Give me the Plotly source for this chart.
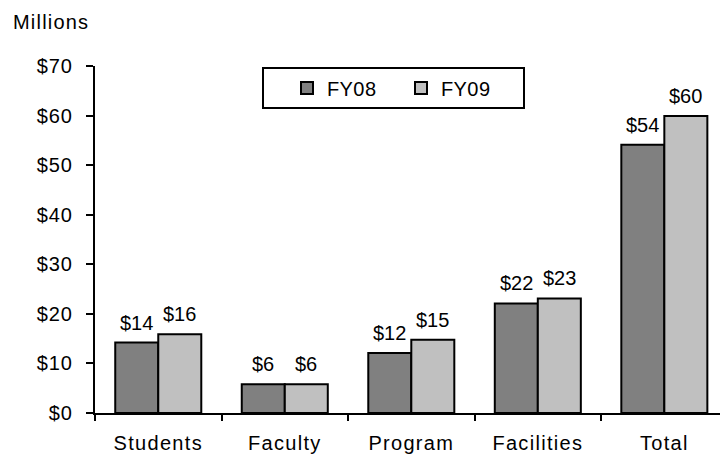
import plotly.graph_objects as go

categories = ["Students", "Faculty", "Program", "Facilities", "Total"]
fy08 = [14.2, 5.8, 12.1, 22.1, 54.1]
fy09 = [15.9, 5.8, 14.8, 23.1, 59.9]
series_names = ["FY08", "FY09"]
y_tickvals = [0, 10, 20, 30, 40, 50, 60, 70]
y_ticktext = ["$0", "$10", "$20", "$30", "$40", "$50", "$60", "$70"]

FONT = "Liberation Sans, Arial, sans-serif"
FS = 20
W, H = 720, 455
ML, MR, MT, MB = 95, 0, 66, 42
PW = W - ML - MR
PH = H - MT - MB
XRANGE = [-0.5, 4.44]
BARGAP = 0.32


def px_x(p):
    return (p - ML) / PW


def px_y(p):
    return (H - MB - p) / PH


def spaced(s, ls):
    return f"<span style='letter-spacing:{ls}px'>{s}</span>"


cat_px = PW / (XRANGE[1] - XRANGE[0])
half_bar = cat_px * (1 - BARGAP) / 4

fig = go.Figure()
annotations = []
for k, (name, vals, col) in enumerate([(series_names[0], fy08, "#808080"),
                                       (series_names[1], fy09, "#C0C0C0")]):
    fig.add_trace(go.Bar(
        x=categories, y=vals, name=spaced(name, 0.4),
        marker=dict(color=col, line=dict(color="black", width=2)),
    ))
    for c, v in zip(categories, vals):
        annotations.append(dict(
            x=c, y=v, xref="x", yref="y", text=f"${v:.0f}",
            xshift=(-half_bar if k == 0 else half_bar), yshift=7,
            yanchor="bottom", xanchor="center", showarrow=False,
            font=dict(family=FONT, size=FS, color="black"),
        ))

annotations.append(dict(
    text=spaced("Millions", 1.2), xref="paper", yref="paper",
    x=px_x(11), y=px_y(22), xanchor="left", yanchor="middle",
    showarrow=False, font=dict(family=FONT, size=FS, color="black"),
))

fig.update_layout(
    width=W, height=H,
    margin=dict(l=ML, r=MR, t=MT, b=MB, pad=0),
    paper_bgcolor="white", plot_bgcolor="white",
    barmode="group", bargap=BARGAP, bargroupgap=0,
    font=dict(family=FONT, size=FS, color="black"),
    showlegend=True,
    legend=dict(
        orientation="h", x=px_x(287), xanchor="left", y=px_y(88), yanchor="middle",
        bgcolor="rgba(0,0,0,0)", borderwidth=0, entrywidth=69,
        font=dict(family=FONT, size=FS, color="black"),
    ),
    xaxis=dict(
        type="category", range=XRANGE, automargin=False,
        tickvals=categories, ticktext=[spaced(c, 1.3) for c in categories],
        showline=True, linecolor="black", linewidth=2,
        ticks="outside", tickson="boundaries", ticklen=6, tickwidth=2, tickcolor="black",
        showgrid=False, ticklabelstandoff=11,
        tickfont=dict(family=FONT, size=FS, color="black"),
    ),
    yaxis=dict(
        range=[0, 70], tickvals=y_tickvals,
        ticktext=[spaced(t, 1.0) for t in y_ticktext], automargin=False,
        showline=True, linecolor="black", linewidth=2,
        ticks="outside", ticklen=7, tickwidth=2, tickcolor="black",
        showgrid=False, zeroline=False, ticklabelstandoff=9,
        tickfont=dict(family=FONT, size=FS, color="black"),
    ),
    shapes=[dict(
        type="rect", xref="paper", yref="paper",
        x0=px_x(263), x1=px_x(524), y0=px_y(108), y1=px_y(68),
        line=dict(color="black", width=2), fillcolor="rgba(0,0,0,0)",
    )],
    annotations=annotations,
)

fig.write_html(
    "out.html",
    config={"displayModeBar": False},
    post_script="document.body.style.margin='0';document.body.style.overflow='hidden';",
)
